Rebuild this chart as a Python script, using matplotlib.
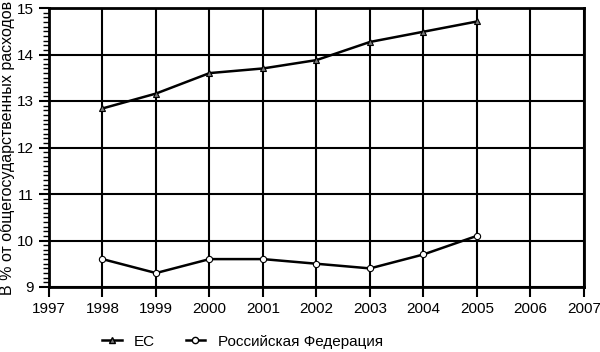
import matplotlib
matplotlib.use("Agg")
import matplotlib.pyplot as plt
from matplotlib.ticker import MultipleLocator
from matplotlib.lines import Line2D

plt.rcParams['font.family'] = ['Liberation Sans', 'DejaVu Sans']

years = [1998, 1999, 2000, 2001, 2002, 2003, 2004, 2005]
eu = [12.84, 13.16, 13.6, 13.7, 13.88, 14.27, 14.49, 14.71]
ru = [9.6, 9.3, 9.6, 9.6, 9.5, 9.4, 9.7, 10.1]
x_ticks = list(range(1997, 2008))
y_ticks = list(range(9, 16))
series_names = ['ЕС', 'Российская Федерация']
ylabel = 'В % от общегосударственных расходов'

fig = plt.figure(figsize=(6, 3.52), dpi=100)
ax = fig.add_axes([49/600, 1-287/352, (584-49)/600, (287-8)/352])

ax.plot(years, eu, color='black', lw=1.8, marker='^', ms=5,
        mfc='#777777', mec='black', mew=0.8, zorder=3)
ax.plot(years, ru, color='black', lw=1.8, marker='o', ms=4.5,
        mfc='white', mec='black', mew=0.8, zorder=3)

ax.set_xlim(1997, 2007)
ax.set_ylim(9, 15)
ax.set_xticks(x_ticks)
ax.set_yticks(y_ticks)
ax.yaxis.set_minor_locator(MultipleLocator(0.1))
ax.grid(True, which='major', color='black', lw=1.5)
for s in ax.spines.values():
    s.set_linewidth(2)
ax.tick_params(axis='both', which='major', direction='out', length=7, width=1.5,
               labelsize=11, pad=4)
ax.tick_params(axis='y', which='minor', direction='out', length=4, width=1)
ax.set_ylabel(ylabel, fontsize=11.5, labelpad=1)

handles = [Line2D([], [], color='black', lw=1.8, marker='^', ms=5, mfc='#777777', mec='black'),
           Line2D([], [], color='black', lw=1.8, marker='o', ms=4.5, mfc='white', mec='black')]
fig.legend(handles, series_names, loc='lower left', bbox_to_anchor=(88/600, -0.03),
           ncol=2, frameon=False, fontsize=11, handlelength=1.3, columnspacing=2.0,
           handletextpad=0.8)

fig.savefig('out.png', dpi=100)
